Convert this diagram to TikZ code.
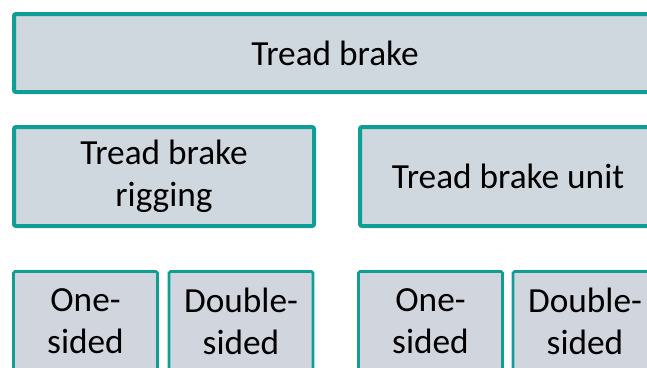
\documentclass[tikz,border=0pt]{standalone}
\usepackage{fontspec}
\setmainfont{Carlito}
\definecolor{teal1}{RGB}{14,158,150}
\definecolor{fillA}{RGB}{206,216,222}
\definecolor{fillB}{RGB}{208,213,222}
\begin{document}
\begin{tikzpicture}[x=1pt,y=-1pt,
  bigbox/.style={draw=teal1,fill=fillA,line width=4pt,rounded corners=2pt,inner sep=0pt,align=center,
    font=\fontsize{35.3}{42}\selectfont},
  smallbox/.style={draw=teal1,fill=fillB,line width=2.7pt,rounded corners=1.5pt,inner sep=0pt,align=center,
    minimum width=144pt,minimum height=100pt,font=\fontsize{35.3}{42}\selectfont}]
\useasboundingbox (0,0) rectangle (647,367);
\clip (0,0) rectangle (647,367);
\node[bigbox,minimum width=642pt,minimum height=78pt] (top) at (335,53) {Tread brake};
\node[bigbox,minimum width=300pt,minimum height=99pt] (rig) at (164,176.5) {Tread brake\\rigging};
\node[bigbox,minimum width=296pt,minimum height=99pt] (unit) at (508,176.5) {Tread brake unit};
\node[smallbox] (a1) at (85.5,321.5) {One-\\sided};
\node[smallbox] (a2) at (241,321.5) {Double-\\sided};
\node[smallbox] (b1) at (430.5,321.5) {One-\\sided};
\node[smallbox] (b2) at (585,321.5) {Double-\\sided};
\end{tikzpicture}
\end{document}
